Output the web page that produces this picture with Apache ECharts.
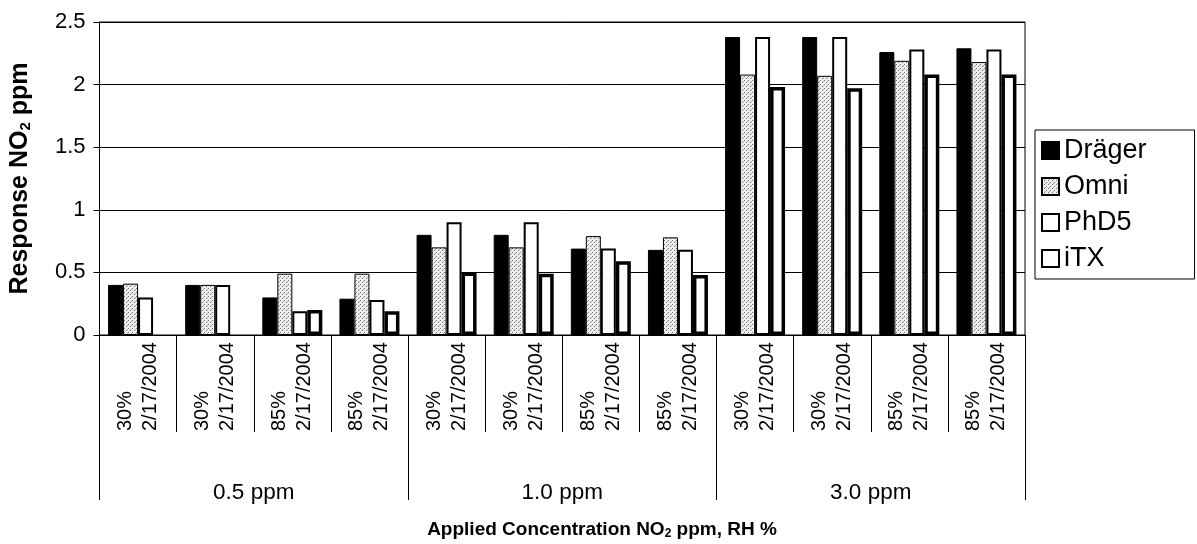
<!DOCTYPE html>
<html><head><meta charset="utf-8">
<script src="https://cdn.jsdelivr.net/npm/echarts@6/dist/echarts.min.js"></script>
<style>html,body{margin:0;padding:0;background:#fff}#c{width:1197px;height:544px}</style>
</head><body><div id="c"></div>
<script>
// ---- data ----
const rhLabels = ['30%','30%','85%','85%','30%','30%','85%','85%','30%','30%','85%','85%'];
const dateLabels = ['2/17/2004','2/17/2004','2/17/2004','2/17/2004','2/17/2004','2/17/2004','2/17/2004','2/17/2004','2/17/2004','2/17/2004','2/17/2004','2/17/2004'];
const concentrations = ['0.5 ppm','1.0 ppm','3.0 ppm'];
const seriesNames = ['Dräger','Omni','PhD5','iTX'];
const drager = [0.40,0.40,0.30,0.29,0.80,0.80,0.69,0.68,2.38,2.38,2.26,2.29];
const omni   = [0.41,0.40,0.49,0.49,0.70,0.70,0.79,0.78,2.08,2.07,2.19,2.18];
const phd5   = [0.30,0.40,0.19,0.28,0.90,0.90,0.69,0.68,2.38,2.38,2.28,2.28];
const itx    = [null,null,0.20,0.19,0.50,0.49,0.59,0.48,1.98,1.97,2.08,2.08];

const categories = rhLabels.map((r,i)=>r+'\n'+dateLabels[i]);

// stipple pattern for Omni
const pc = document.createElement('canvas');
pc.width = 4; pc.height = 4;
const g = pc.getContext('2d');
g.fillStyle = '#eeeeee'; g.fillRect(0,0,4,4);
g.fillStyle = '#777777'; g.fillRect(0,0,1,1); g.fillRect(2,2,1,1);
g.fillStyle = '#aaaaaa'; g.fillRect(3,1,1,1);

const FONT = 'Liberation Sans, Arial, sans-serif';
const chart = echarts.init(document.getElementById('c'), null, {renderer:'canvas'});
const styles = [
  {color:'#000', borderColor:'#000', borderWidth:1},
  {color:{image:pc, repeat:'repeat'}, borderColor:'#000', borderWidth:1},
  {color:'#fff', borderColor:'#000', borderWidth:2},
  {color:'#fff', borderColor:'#000', borderWidth:3.5}
];
const dataArr = [drager, omni, phd5, itx];
chart.setOption({
  animation:false,
  backgroundColor:'#fff',
  grid:{left:97, right:172, top:22, bottom:209, show:true, borderColor:'#000', borderWidth:1},
  legend:{
    orient:'vertical', left:1035, top:130, padding:[7,48,7,6],
    itemWidth:17, itemHeight:17, itemGap:9, icon:'rect',
    borderColor:'#000', borderWidth:1,
    textStyle:{fontFamily:FONT, fontSize:27, color:'#000'},
    data:seriesNames
  },
  xAxis:[{
    type:'category', data:categories, position:'bottom',
    axisLine:{show:true, lineStyle:{color:'#000', width:1}},
    axisTick:{show:true, interval:0, length:97, lineStyle:{color:'#000', width:1}},
    axisLabel:{interval:0, rotate:90, margin:96, align:'left', verticalAlign:'middle',
      fontFamily:FONT, fontSize:20, lineHeight:25, color:'#000'}
  },{
    type:'category', data:concentrations, position:'bottom',
    axisLine:{show:false},
    axisTick:{show:true, interval:0, length:165, lineStyle:{color:'#000', width:1}},
    axisLabel:{interval:0, margin:146, fontFamily:FONT, fontSize:22.5, color:'#000'}
  }],
  yAxis:{
    type:'value', min:0, max:2.5, interval:0.5,
    axisLine:{show:true, lineStyle:{color:'#000', width:1}},
    axisTick:{show:true, length:6, lineStyle:{color:'#000'}},
    splitLine:{show:true, lineStyle:{color:'#000', width:1}},
    axisLabel:{margin:14, fontFamily:FONT, fontSize:22, color:'#000',
      formatter:(v)=>String(v)},
    name:'{a|Response NO}{s|2}{a| ppm}', nameLocation:'middle', nameGap:66, nameRotate:90,
    nameTextStyle:{rich:{
      a:{fontFamily:FONT, fontSize:25, fontWeight:'bold', color:'#000'},
      s:{fontFamily:FONT, fontSize:15, fontWeight:'bold', color:'#000', padding:[11,0,0,0]}
    }}
  },
  graphic:[{
    type:'text', x:602, y:530,
    style:{text:'{a|Applied Concentration NO}{s|2}{a| ppm, RH %}', align:'center', verticalAlign:'middle',
      rich:{
        a:{fontFamily:FONT, fontSize:19, fontWeight:'bold', fill:'#000'},
        s:{fontFamily:FONT, fontSize:12, fontWeight:'bold', fill:'#000', padding:[8,0,0,0]}
      }}
  }],
  series: seriesNames.map((n,i)=>({
    name:n, type:'bar', xAxisIndex:0, data:dataArr[i],
    barWidth:15, barGap:'0%',
    itemStyle:styles[i]
  }))
});
</script></body></html>
